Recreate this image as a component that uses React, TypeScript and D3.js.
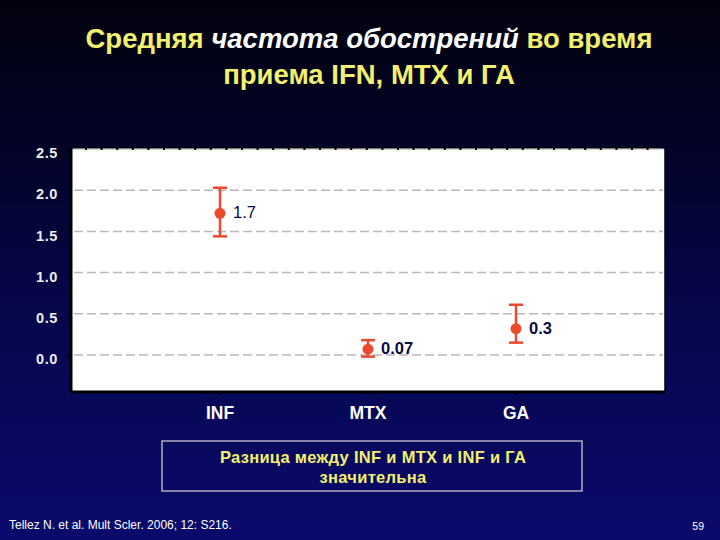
import React from "react";
import * as d3 from "d3";

const categories = ["INF", "MTX", "GA"];
const means = [1.72, 0.07, 0.32];
const lowers = [1.44, -0.02, 0.15];
const uppers = [2.03, 0.18, 0.61];
const valueLabels = ["1.7", "0.07", "0.3"];
const yTicks = [0, 0.5, 1.0, 1.5, 2.0, 2.5];
const titleLine1 = [
  { t: "Средняя ", italic: false },
  { t: "частота обострений", italic: true },
  { t: " во время", italic: false },
];
const titleLine2 = "приема IFN, MTX и ГА";
const noteLines = ["Разница между INF и MTX и INF и ГА", "значительна"];
const citation = "Tellez N. et al. Mult Scler. 2006; 12: S216.";
const pageNumber = "59";

const W = 720;
const H = 540;
const FONT = "'Liberation Sans', Arial, sans-serif";

export default function App() {
  const plot = { left: 71, right: 665, top: 148, bottom: 392 };
  const y = d3.scaleLinear().domain([0, 2.5]).range([355, 149]);
  const x = d3
    .scalePoint<string>()
    .domain(categories)
    .range([220, 516]);

  const dotXs = d3.range(plot.left + 15, plot.right - 4, 15.6);
  const red = "#ec4a2c";
  const yellow = "#f2f06e";

  return (
    <svg
      width={W}
      height={H}
      style={{ position: "absolute", left: 0, top: 0, display: "block" }}
    >
      <defs>
        <linearGradient id="bg" x1="0" y1="0" x2="0" y2="1">
          <stop offset="0" stopColor="#02020e" />
          <stop offset="0.25" stopColor="#030326" />
          <stop offset="0.6" stopColor="#06064e" />
          <stop offset="1" stopColor="#0a0a6c" />
        </linearGradient>
      </defs>
      <rect x={0} y={0} width={W} height={H} fill="url(#bg)" />

      {/* Title */}
      <text
        x={369}
        y={48}
        textAnchor="middle"
        fontFamily={FONT}
        fontWeight="bold"
        fontSize={27.5}
        fill={yellow}
      >
        {titleLine1.map((s, i) => (
          <tspan
            key={i}
            fontStyle={s.italic ? "italic" : "normal"}
            fill={s.italic ? "#ffffff" : yellow}
          >
            {s.t}
          </tspan>
        ))}
      </text>
      <text
        x={369}
        y={84}
        textAnchor="middle"
        fontFamily={FONT}
        fontWeight="bold"
        fontSize={27.5}
        fill={yellow}
      >
        {titleLine2}
      </text>

      {/* Plot area */}
      <rect
        x={plot.left}
        y={plot.top}
        width={plot.right - plot.left}
        height={plot.bottom - plot.top}
        fill="#ffffff"
        stroke="#000000"
        strokeWidth={1.5}
      />
      <line
        x1={plot.left}
        x2={plot.left}
        y1={plot.top}
        y2={plot.bottom}
        stroke="#000"
        strokeWidth={3}
      />
      <line
        x1={plot.left}
        x2={plot.right}
        y1={plot.bottom}
        y2={plot.bottom}
        stroke="#000"
        strokeWidth={3}
      />

      {/* Gridlines */}
      {yTicks.slice(0, -1).map((t) => (
        <line
          key={t}
          x1={plot.left + 3}
          x2={plot.right - 2}
          y1={y(t)}
          y2={y(t)}
          stroke="#b8b8b8"
          strokeWidth={1.5}
          strokeDasharray="9 4"
        />
      ))}
      {/* Top dotted line */}
      <line
        x1={plot.left + 2}
        x2={plot.right - 2}
        y1={y(2.5)}
        y2={y(2.5)}
        stroke="#b0b0b0"
        strokeWidth={1.2}
      />
      {dotXs.map((dx, i) => (
        <rect
          key={i}
          x={dx - 1}
          y={y(2.5) - 1}
          width={2}
          height={2}
          fill="#000"
        />
      ))}

      {/* Y ticks and labels */}
      {yTicks.map((t) => (
        <g key={t}>
          <line
            x1={plot.left - 4}
            x2={plot.left}
            y1={y(t)}
            y2={y(t)}
            stroke="#000"
            strokeWidth={1.5}
          />
          <text
            x={58}
            y={y(t) + 4}
            dy="0.36em"
            textAnchor="end"
            fontFamily={FONT}
            fontWeight="bold"
            fontSize={14.5}
            letterSpacing={0.6}
            fill="#eeeeee"
          >
            {t.toFixed(1)}
          </text>
        </g>
      ))}

      {/* X ticks and labels */}
      {categories.map((c) => (
        <g key={c}>
          <line
            x1={x(c)!}
            x2={x(c)!}
            y1={plot.bottom}
            y2={plot.bottom + 3}
            stroke="#000"
            strokeWidth={1.5}
          />
          <text
            x={x(c)!}
            y={419}
            textAnchor="middle"
            fontFamily={FONT}
            fontWeight="bold"
            fontSize={17.5}
            fill="#ffffff"
          >
            {c}
          </text>
        </g>
      ))}

      {/* Error bars */}
      {categories.map((c, i) => {
        const cx = x(c)!;
        return (
          <g key={c}>
            <line
              x1={cx}
              x2={cx}
              y1={y(uppers[i])}
              y2={y(lowers[i])}
              stroke={red}
              strokeWidth={2.5}
            />
            <line
              x1={cx - 7}
              x2={cx + 7}
              y1={y(uppers[i])}
              y2={y(uppers[i])}
              stroke={red}
              strokeWidth={2.5}
            />
            <line
              x1={cx - 7}
              x2={cx + 7}
              y1={y(lowers[i])}
              y2={y(lowers[i])}
              stroke={red}
              strokeWidth={2.5}
            />
            <circle cx={cx} cy={y(means[i])} r={5.5} fill={red} />
            <text
              x={cx + 13}
              y={y(means[i])}
              dy="0.3em"
              fontFamily={FONT}
              fontSize={16.5}
              fontWeight={i === 0 ? "normal" : "bold"}
              fill="#0a0a40"
            >
              {valueLabels[i]}
            </text>
          </g>
        );
      })}

      {/* Note box */}
      <rect
        x={162}
        y={441}
        width={420}
        height={50}
        fill="none"
        stroke="#d8d8d8"
        strokeWidth={1.2}
      />
      {noteLines.map((l, i) => (
        <text
          key={i}
          x={373}
          y={463 + i * 20}
          textAnchor="middle"
          fontFamily={FONT}
          fontWeight="bold"
          fontSize={16.5}
          letterSpacing={0.3}
          fill={yellow}
        >
          {l}
        </text>
      ))}

      {/* Footer */}
      <text
        x={9}
        y={529}
        fontFamily={FONT}
        fontSize={12}
        fill="#ffffff"
      >
        {citation}
      </text>
      <text
        x={704}
        y={530}
        textAnchor="end"
        fontFamily={FONT}
        fontSize={10.5}
        fill="#ffffff"
      >
        {pageNumber}
      </text>
    </svg>
  );
}
